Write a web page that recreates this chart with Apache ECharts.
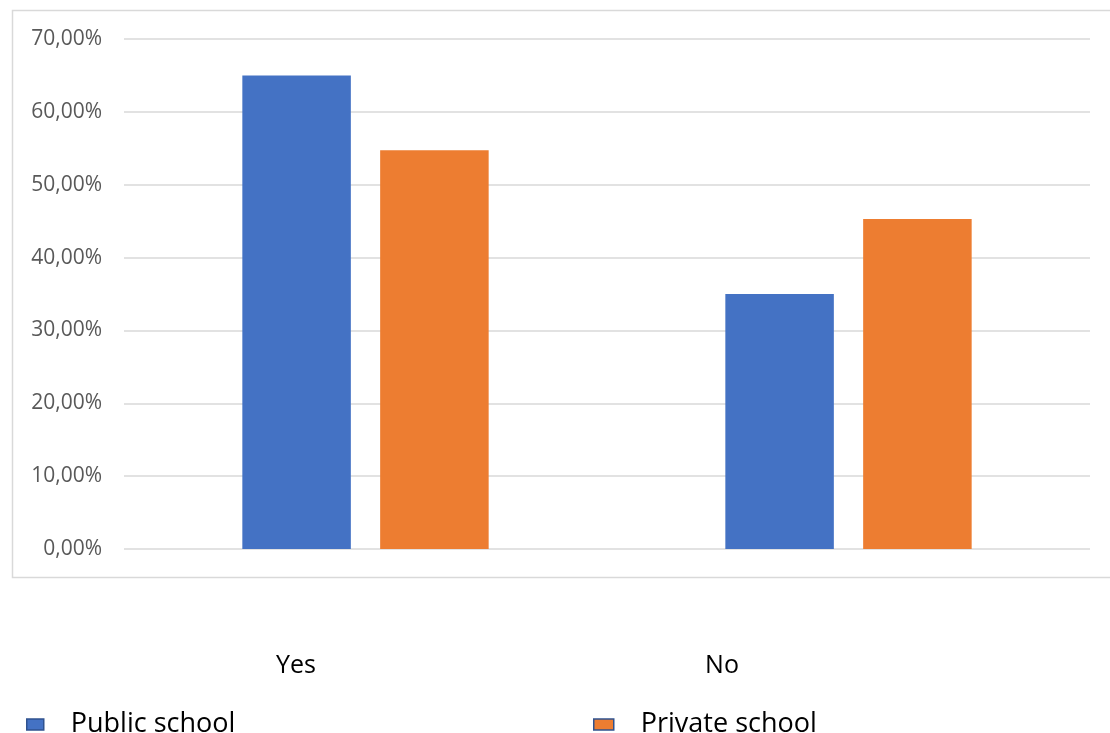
<!DOCTYPE html>
<html>
<head>
<meta charset="utf-8">
<title>Public vs private school</title>
<script src="https://cdn.jsdelivr.net/npm/echarts@6/dist/echarts.min.js"></script>
<style>
  html, body { margin: 0; padding: 0; background: #ffffff; }
  #chart { width: 1110px; height: 733px; }
</style>
</head>
<body>
<div id="chart"></div>
<script>
// Answer categories and share of respondents (%) per school type
const categories = ['Yes', 'No'];
const publicSchool = [65.0, 35.0];
const privateSchool = [54.72, 45.28];
const seriesNames = ['Public school', 'Private school'];
const yTicks = { min: 0, max: 70, step: 10 };

const FONT = '"Open Sans", "Noto Sans", sans-serif';
const GRID_COLOR = '#d9d9d9';

const chart = echarts.init(document.getElementById('chart'), null, { renderer: 'canvas' });

const fmtPct = v => v.toFixed(2).replace('.', ',') + '%';

chart.setOption({
  animation: false,
  backgroundColor: '#ffffff',
  graphic: [{
    // outer chart frame
    type: 'rect',
    shape: { x: 12.5, y: 10.5, width: 1110, height: 567 },
    style: { fill: null, stroke: GRID_COLOR, lineWidth: 1.5 },
    silent: true,
    z: -1
  }],
  grid: [
    { left: 124, right: 20, top: 39, bottom: 184 },
    // category label band
    { left: 83, right: 175, top: 39, bottom: 184 }
  ],
  legend: [
    {
      data: [seriesNames[0]],
      left: 21, top: 706,
      itemWidth: 17, itemHeight: 11, itemGap: 0,
      textStyle: { fontFamily: FONT, fontSize: 27, color: '#000000', padding: [0, 0, 0, 22] },
      icon: 'rect',
      itemStyle: { borderColor: '#2F528F', borderWidth: 1.5 }
    },
    {
      data: [seriesNames[1]],
      left: 588, top: 706,
      itemWidth: 20, itemHeight: 11, itemGap: 0,
      textStyle: { fontFamily: FONT, fontSize: 27, color: '#000000', padding: [0, 0, 0, 22] },
      icon: 'rect',
      itemStyle: { borderColor: '#2F528F', borderWidth: 1.5 }
    }
  ],
  xAxis: [
    {
      type: 'category', gridIndex: 0, data: categories,
      axisLine: { show: false }, axisTick: { show: false }, axisLabel: { show: false }
    },
    {
      type: 'category', gridIndex: 1, data: categories,
      axisLine: { show: false }, axisTick: { show: false },
      axisLabel: { fontFamily: FONT, fontSize: 25, color: '#000000', margin: 104 }
    }
  ],
  yAxis: [
    {
      type: 'value', gridIndex: 0,
      min: yTicks.min, max: yTicks.max, interval: yTicks.step,
      axisLine: { show: false }, axisTick: { show: false },
      axisLabel: { fontFamily: FONT, fontSize: 21, color: '#595959', margin: 22, formatter: fmtPct },
      splitLine: { lineStyle: { color: GRID_COLOR, width: 1.5 } }
    },
    { type: 'value', gridIndex: 1, show: false, min: 0, max: 70 }
  ],
  series: [
    {
      name: seriesNames[0], type: 'bar', xAxisIndex: 0, yAxisIndex: 0,
      data: publicSchool,
      barGap: '27%', barCategoryGap: '49%',
      itemStyle: { color: '#4472C4' }
    },
    {
      name: seriesNames[1], type: 'bar', xAxisIndex: 0, yAxisIndex: 0,
      data: privateSchool,
      barGap: '27%', barCategoryGap: '49%',
      itemStyle: { color: '#ED7D31' }
    }
  ]
});
</script>
</body>
</html>
